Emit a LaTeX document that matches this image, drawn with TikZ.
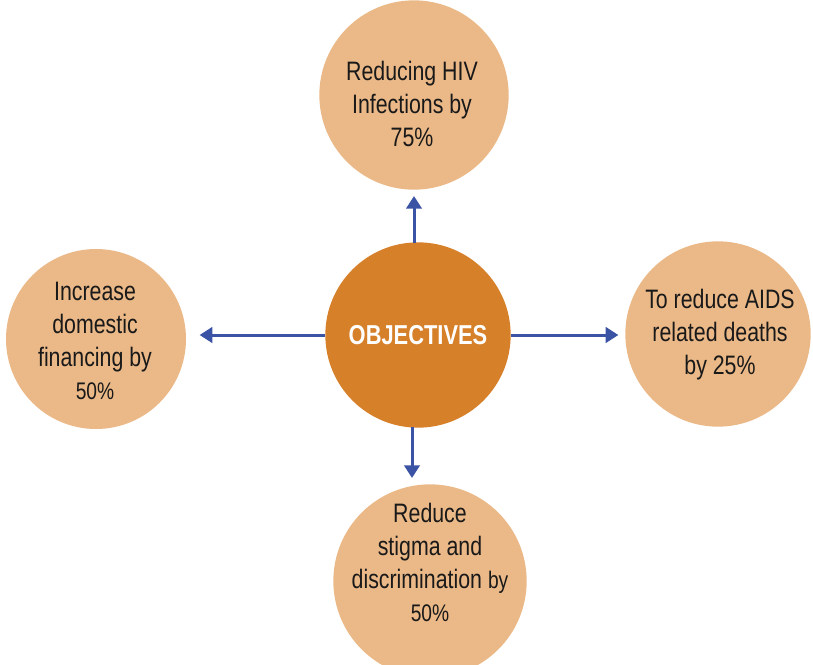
\documentclass[tikz,border=0pt]{standalone}
\usepackage{fontspec}
\setmainfont[FakeStretch=0.8]{Liberation Sans}
\usetikzlibrary{arrows.meta}
\definecolor{centerorange}{HTML}{D6802A}
\definecolor{lightorange}{HTML}{EBB988}
\definecolor{arrowblue}{HTML}{3A53A4}
\newcommand{\smallnum}{\fontsize{18}{24.75}\selectfont}
\tikzset{
  outer/.style={circle, fill=lightorange, draw=none, inner sep=0pt},
  inner/.style={circle, fill=centerorange, draw=none, inner sep=0pt, minimum size=139pt},
  label/.style={align=center, font=\fontsize{20}{24.75}\selectfont, text=black!90},
  conn/.style={draw=arrowblue, line width=2.25pt, -{Triangle[width=11.5pt,length=9.5pt]}},
}
\begin{document}
\begin{tikzpicture}[x=0.75pt, y=-0.75pt]
\useasboundingbox (0,0) rectangle (813,664);
\clip (0,0) rectangle (813,664);
\node[outer, minimum size=142pt] (top) at (414,95) {};
\node[outer, minimum size=135pt] (left) at (96,339) {};
\node[outer, minimum size=139pt] (right) at (718,334) {};
\node[outer, minimum size=145pt] (bottom) at (430,581) {};
\node[inner] (center) at (418,335) {};
\node[text=white, font=\bfseries\fontsize{20.5}{24}\selectfont] (objtext) at (center) {OBJECTIVES};
\node[label] (toptext) at (412,104) {Reducing HIV\\Infections by\\75\%};
\node[label] (lefttext) at (95,341) {Increase\\domestic\\financing by\\{\smallnum 50\%}};
\node[label] (righttext) at (720,335) {To reduce AIDS\\related deaths\\by 25\%};
\node[label] (bottomtext) at (430,562) {Reduce\\stigma and\\discrimination {\smallnum by}\\{\smallnum 50\%}};
\draw[conn] (center.west) -- ([xshift=10pt]left.east |- center.west);
\draw[conn] (center.east) -- ([xshift=-5pt]right.west |- center.east);
\draw[conn] (414,243) -- (414,196);
\draw[conn] (412,427) -- (412,478);
\end{tikzpicture}
\end{document}
